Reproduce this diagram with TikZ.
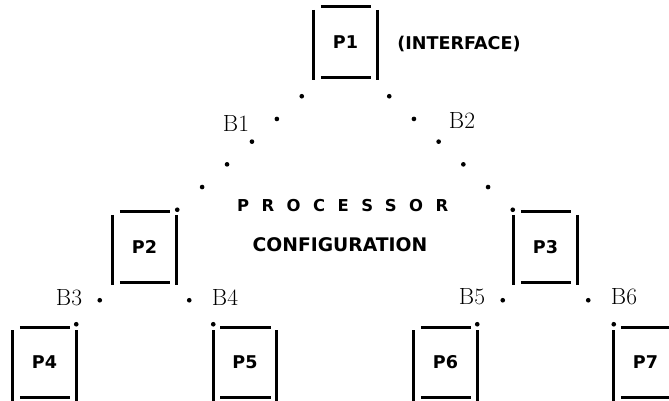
\documentclass[tikz,border=0pt]{standalone}
\usepackage{fontspec}
\setsansfont{DejaVu Sans}
\usepackage{tikz}
\usetikzlibrary{calc}

\newcommand{\pframe}[1]{%
  \draw[bline] ([shift={(7,0)}]#1.north west) -- ([shift={(-6,0)}]#1.north east);
  \draw[bline] ([shift={(7,0)}]#1.south west) -- ([shift={(-6,0)}]#1.south east);
  \draw[bline] ([shift={(0,3)}]#1.north west) -- ([shift={(0,3)}]#1.south west);
  \draw[bline] ([shift={(0,3)}]#1.north east) -- ([shift={(0,3)}]#1.south east);
}

\begin{document}
\begin{tikzpicture}[x=0.03cm, y=-0.03cm,
      pnode/.style={minimum width=1.89cm, minimum height=2.1cm, inner sep=0pt,
                    font=\sffamily\bfseries\fontsize{15}{18}\selectfont},
      bline/.style={line width=2.3pt},
      captext/.style={font=\sffamily\bfseries\fontsize{15}{18}\selectfont},
      hand/.style={font=\fontsize{20}{24}\selectfont, inner sep=0pt}
    ]
    \useasboundingbox (0,0) rectangle (669,401);
    \clip (0,0) rectangle (669,401);

    \node[pnode] (p1) at (345.5, 42)  {P1};
    \node[pnode] (p2) at (144.5, 247) {P2};
    \node[pnode] (p3) at (545.5, 247) {P3};
    \node[pnode] (p4) at (44.5, 362.5)  {P4};
    \node[pnode] (p5) at (245, 362.5)   {P5};
    \node[pnode] (p6) at (445.5, 362.5) {P6};
    \node[pnode] (p7) at (645.5, 362.5) {P7};

    \foreach \n in {p1,p2,p3,p4,p5,p6,p7}{
      \pframe{\n}
    }

    \node[captext] (iface) at (459, 44) {(INTERFACE)};
    \node[captext, anchor=west, font=\sffamily\bfseries\fontsize{14}{17}\selectfont\addfontfeature{LetterSpace=76}]
          (proc) at (233, 206) {PROCESSOR};
    \node[captext, font=\sffamily\bfseries\fontsize{16}{19}\selectfont] (config) at (340, 245) {CONFIGURATION};

    % bus ends
    \coordinate (b1s) at ([shift={(-12,19)}]p1.south west);
    \coordinate (b1e) at ([shift={(1,-2)}]p2.north east);
    \coordinate (b2s) at ([shift={(12,19)}]p1.south east);
    \coordinate (b2e) at ([shift={(-1,-2)}]p3.north west);
    \coordinate (b3s) at ([shift={(-13,18)}]p2.south west);
    \coordinate (b3e) at ([shift={(0,-3)}]p4.north east);
    \coordinate (b4s) at ([shift={(13,18)}]p2.south east);
    \coordinate (b4e) at ([shift={(0,-3)}]p5.north west);
    \coordinate (b5s) at ([shift={(-11,18)}]p3.south west);
    \coordinate (b5e) at ([shift={(0,-3)}]p6.north east);
    \coordinate (b6s) at ([shift={(11,18)}]p3.south east);
    \coordinate (b6e) at ([shift={(0,-3)}]p7.north west);

    \foreach \a/\b/\k in {b1s/b1e/5, b2s/b2e/5, b3s/b3e/1, b4s/b4e/1, b5s/b5e/1, b6s/b6e/1}{
      \foreach \i in {0,...,\k}
        \fill ($(\a)!\i/\k!(\b)$) circle (0.07cm);
    }

    \node[hand] (lb1) at (236, 124) {B1};
    \node[hand] (lb2) at (462, 120) {B2};
    \node[hand] (lb3) at (69, 298)  {B3};
    \node[hand] (lb4) at (225, 297) {B4};
    \node[hand] (lb5) at (472, 297) {B5};
    \node[hand] (lb6) at (624, 297) {B6};
  \end{tikzpicture}
\end{document}
